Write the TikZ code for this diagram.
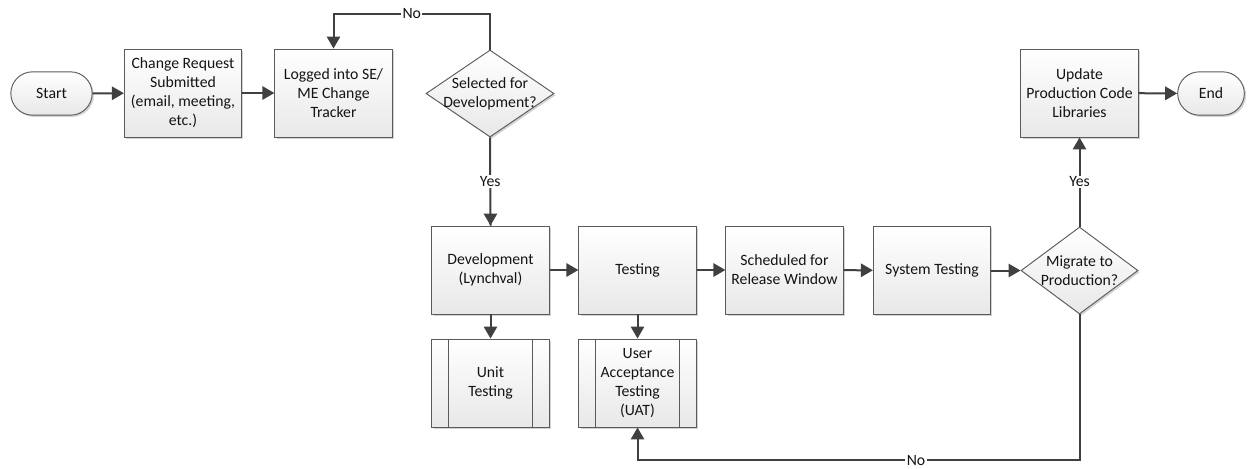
\documentclass[tikz,border=0pt]{standalone}
\usepackage{fontspec}
\setmainfont{Carlito}
\usetikzlibrary{arrows.meta,shapes.geometric,shapes.misc,shadows,calc}

\definecolor{edge}{HTML}{5A5A5A}
\definecolor{wire}{HTML}{404040}
\definecolor{ink}{HTML}{141414}

\newcommand{\diagfont}{\fontsize{11.8}{14.3}\selectfont}

\tikzset{
  base/.style={draw=edge, line width=0.7pt, top color=white, bottom color=black!9,
    text=ink, font=\diagfont, align=center, inner sep=2pt,
    drop shadow={shadow xshift=1.3pt, shadow yshift=-1.3pt, fill=black!35, opacity=0.5}},
  procbox/.style={base, rectangle, minimum width=88pt, minimum height=66pt},
  subproc/.style={procbox, path picture={
      \draw[edge, line width=0.7pt]
        ([xshift=12.75pt]path picture bounding box.north west) --
        ([xshift=12.75pt]path picture bounding box.south west);
      \draw[edge, line width=0.7pt]
        ([xshift=-12.75pt]path picture bounding box.north east) --
        ([xshift=-12.75pt]path picture bounding box.south east);}},
  terminal/.style={base, rounded rectangle, minimum width=65pt, minimum height=32.5pt},
  decision/.style={base, diamond, inner sep=0pt, minimum height=65.25pt},
  arr/.style={draw=wire, line width=1.5pt, -{Triangle[length=9pt,width=10pt]}},
  line/.style={draw=wire, line width=1.5pt},
  lbl/.style={fill=white, inner sep=1pt, text=ink, font=\diagfont}
}

\begin{document}
\begin{tikzpicture}[x=0.75pt, y=-0.75pt]
  \useasboundingbox (0,0) rectangle (1248,468);

  % top row
  \node[terminal] (start) at (51.5,93.5) {Start};
  \node[procbox] (req) at (183,93) {Change Request\\Submitted\\(email, meeting,\\etc.)};
  \node[procbox] (log) at (333.5,93) {Logged into SE/\\ME Change\\Tracker};
  \node[decision, minimum width=96pt,
        label={[text=ink, font=\diagfont, align=center]center:Selected for\\Development?}]
        (sel) at (490,93.5) {};
  \node[procbox] (upd) at (1079.5,93) {Update\\Production Code\\Libraries};
  \node[terminal, minimum width=54pt] (finish) at (1211,93.5) {End};

  % middle row
  \node[procbox] (dev) at (490.5,270) {Development\\(Lynchval)};
  \node[procbox] (tst) at (637.5,270) {Testing};
  \node[procbox] (sch) at (784.5,270) {Scheduled for\\Release Window};
  \node[procbox] (sys) at (932,270.5) {System Testing};
  \node[decision, minimum width=87.75pt,
        label={[text=ink, font=\diagfont, align=center]center:Migrate to\\Production?}]
        (mig) at (1079.5,270.5) {};

  % bottom row
  \node[subproc] (unit) at (490.5,383) {Unit\\Testing};
  \node[subproc] (uat) at (637.5,383) {User\\Acceptance\\Testing\\(UAT)};

  % routing levels
  \coordinate (ytop) at (0,14);
  \coordinate (ybot) at (0,460);

  % connectors
  \draw[arr] (start) -- (req);
  \draw[arr] (req) -- (log);
  \draw[arr] (sel.north) -- (sel.north |- ytop)
     -- node[lbl]{No} (log.north |- ytop) -- (log.north);
  \draw[line] (sel.south) -- node[lbl]{Yes} (dev.north);
  \draw[arr] ($(sel.south)!0.9!(dev.north)$) -- (dev.north);
  \draw[arr] (dev) -- (tst);
  \draw[arr] (tst) -- (sch);
  \draw[arr] (sch) -- (sys);
  \draw[arr] (sys) -- (mig);
  \draw[arr] (mig.north) -- node[lbl]{Yes} (upd.south);
  \draw[arr] (upd) -- (finish);
  \draw[arr] (dev) -- (unit);
  \draw[arr] (tst) -- (uat);
  \draw[arr] (mig.south) -- (mig.south |- ybot)
     -- node[lbl, pos=0.37]{No} (uat.south |- ybot) -- (uat.south);
\end{tikzpicture}
\end{document}
